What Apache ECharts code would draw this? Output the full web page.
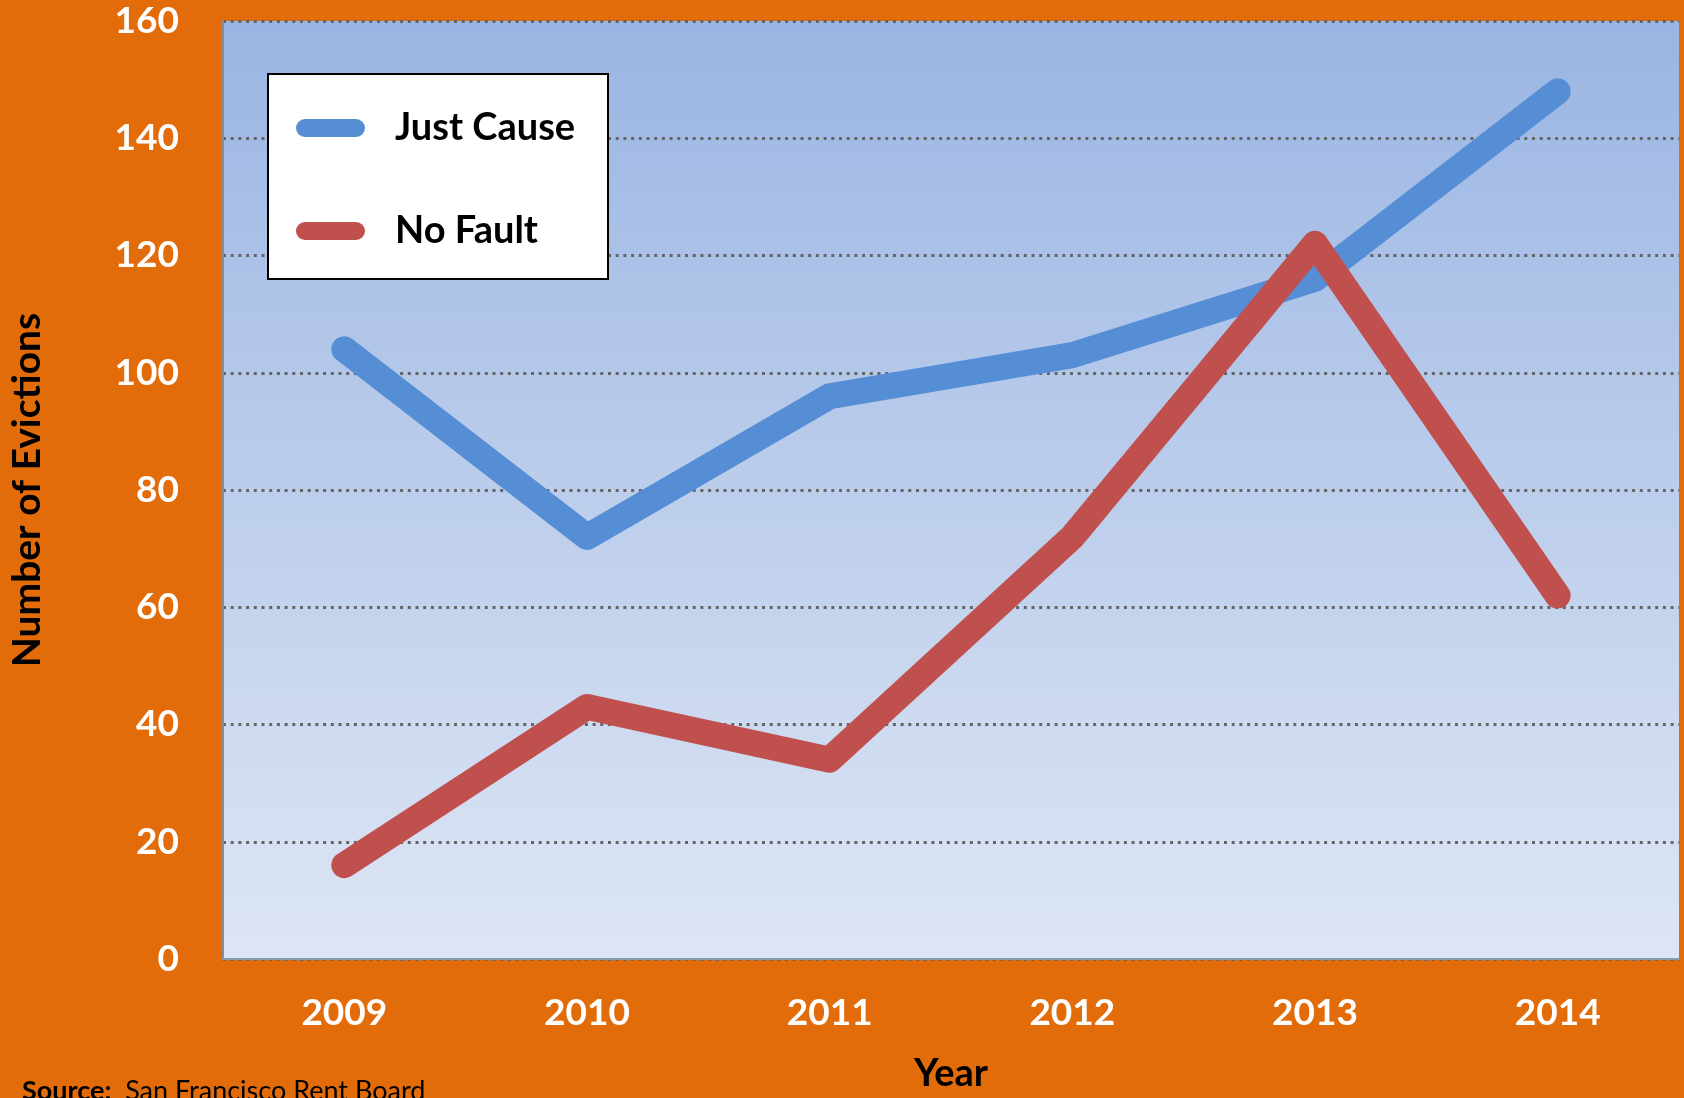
<!DOCTYPE html>
<html>
<head>
<meta charset="utf-8">
<script src="https://cdn.jsdelivr.net/npm/echarts@6/dist/echarts.min.js"></script>
<style>
html,body{margin:0;padding:0;background:#E36C0A;}
#c{width:1684px;height:1098px;}
</style>
</head>
<body>
<div id="c"></div>
<script>
const years = ['2009','2010','2011','2012','2013','2014'];
const justCause = [104, 72, 96, 103, 116, 148];
const noFault = [16, 43, 34, 72, 122, 62];
const yTicks = {min: 0, max: 160, interval: 20};

const FONT = 'Lato';
const chart = echarts.init(document.getElementById('c'));
chart.setOption({
  backgroundColor: '#E36C0A',
  animation: false,
  grid: {
    left: 221, right: 5, top: 21, bottom: 133,
    show: true, borderWidth: 0,
    backgroundColor: {
      type: 'linear', x: 0, y: 0, x2: 0, y2: 1,
      colorStops: [{offset: 0, color: '#9AB5E3'}, {offset: 1, color: '#DEE6F4'}]
    }
  },
  legend: {
    orient: 'vertical',
    left: 291, top: 103,
    itemWidth: 69, itemHeight: 18,
    itemGap: 63,
    icon: 'path://M9,0 H60 A9,9 0 0 1 60,18 H9 A9,9 0 0 1 9,0 Z',
    textStyle: {fontFamily: FONT, fontWeight: 'bold', fontSize: 38, color: '#000', lineHeight: 40, padding: [0, 0, 0, 25]},
    data: ['Just Cause', 'No Fault']
  },
  graphic: [
    {type: 'rect', z: 3, shape: {x: 268, y: 74, width: 340, height: 205},
     style: {fill: '#fff', stroke: '#000', lineWidth: 2}},
    {type: 'text', left: 22, top: 1078, z: 5,
     style: {
       text: '{b|Source:}  San Francisco Rent Board',
       fill: '#000', font: '27px Lato',
       rich: {b: {fontWeight: 'bold', fontSize: 27, fontFamily: FONT, fill: '#000'}}
     }}
  ],
  xAxis: {
    type: 'category',
    data: years,
    boundaryGap: true,
    name: 'Year',
    nameLocation: 'middle',
    nameGap: 96,
    nameTextStyle: {fontFamily: FONT, fontWeight: 'bold', fontSize: 38, color: '#000', verticalAlign: 'top'},
    axisLine: {show: true, lineStyle: {color: '#8C9AAE', width: 2}},
    axisTick: {show: false},
    axisLabel: {margin: 36, fontFamily: FONT, fontWeight: 'bold', fontSize: 37, color: '#fff'},
    splitLine: {show: false}
  },
  yAxis: {
    type: 'value',
    min: yTicks.min, max: yTicks.max, interval: yTicks.interval,
    name: 'Number of Evictions',
    nameLocation: 'middle',
    nameGap: 176,
    nameTextStyle: {fontFamily: FONT, fontWeight: 'bold', fontSize: 39, color: '#000'},
    axisLine: {show: true, lineStyle: {color: '#8C8C8C', width: 2}},
    axisTick: {show: false},
    axisLabel: {margin: 44, fontFamily: FONT, fontWeight: 'bold', fontSize: 37, color: '#fff'},
    splitLine: {show: true, lineStyle: {color: '#656565', width: 3, type: [3, 4.7]}}
  },
  series: [
    {name: 'Just Cause', type: 'line', data: justCause, symbol: 'none', z: 2,
     itemStyle: {color: '#558ED5'},
     lineStyle: {color: '#558ED5', width: 26, cap: 'round', join: 'round'}},
    {name: 'No Fault', type: 'line', data: noFault, symbol: 'none', z: 2,
     itemStyle: {color: '#C0504D'},
     lineStyle: {color: '#C0504D', width: 26, cap: 'round', join: 'round'}}
  ]
});
</script>
</body>
</html>
